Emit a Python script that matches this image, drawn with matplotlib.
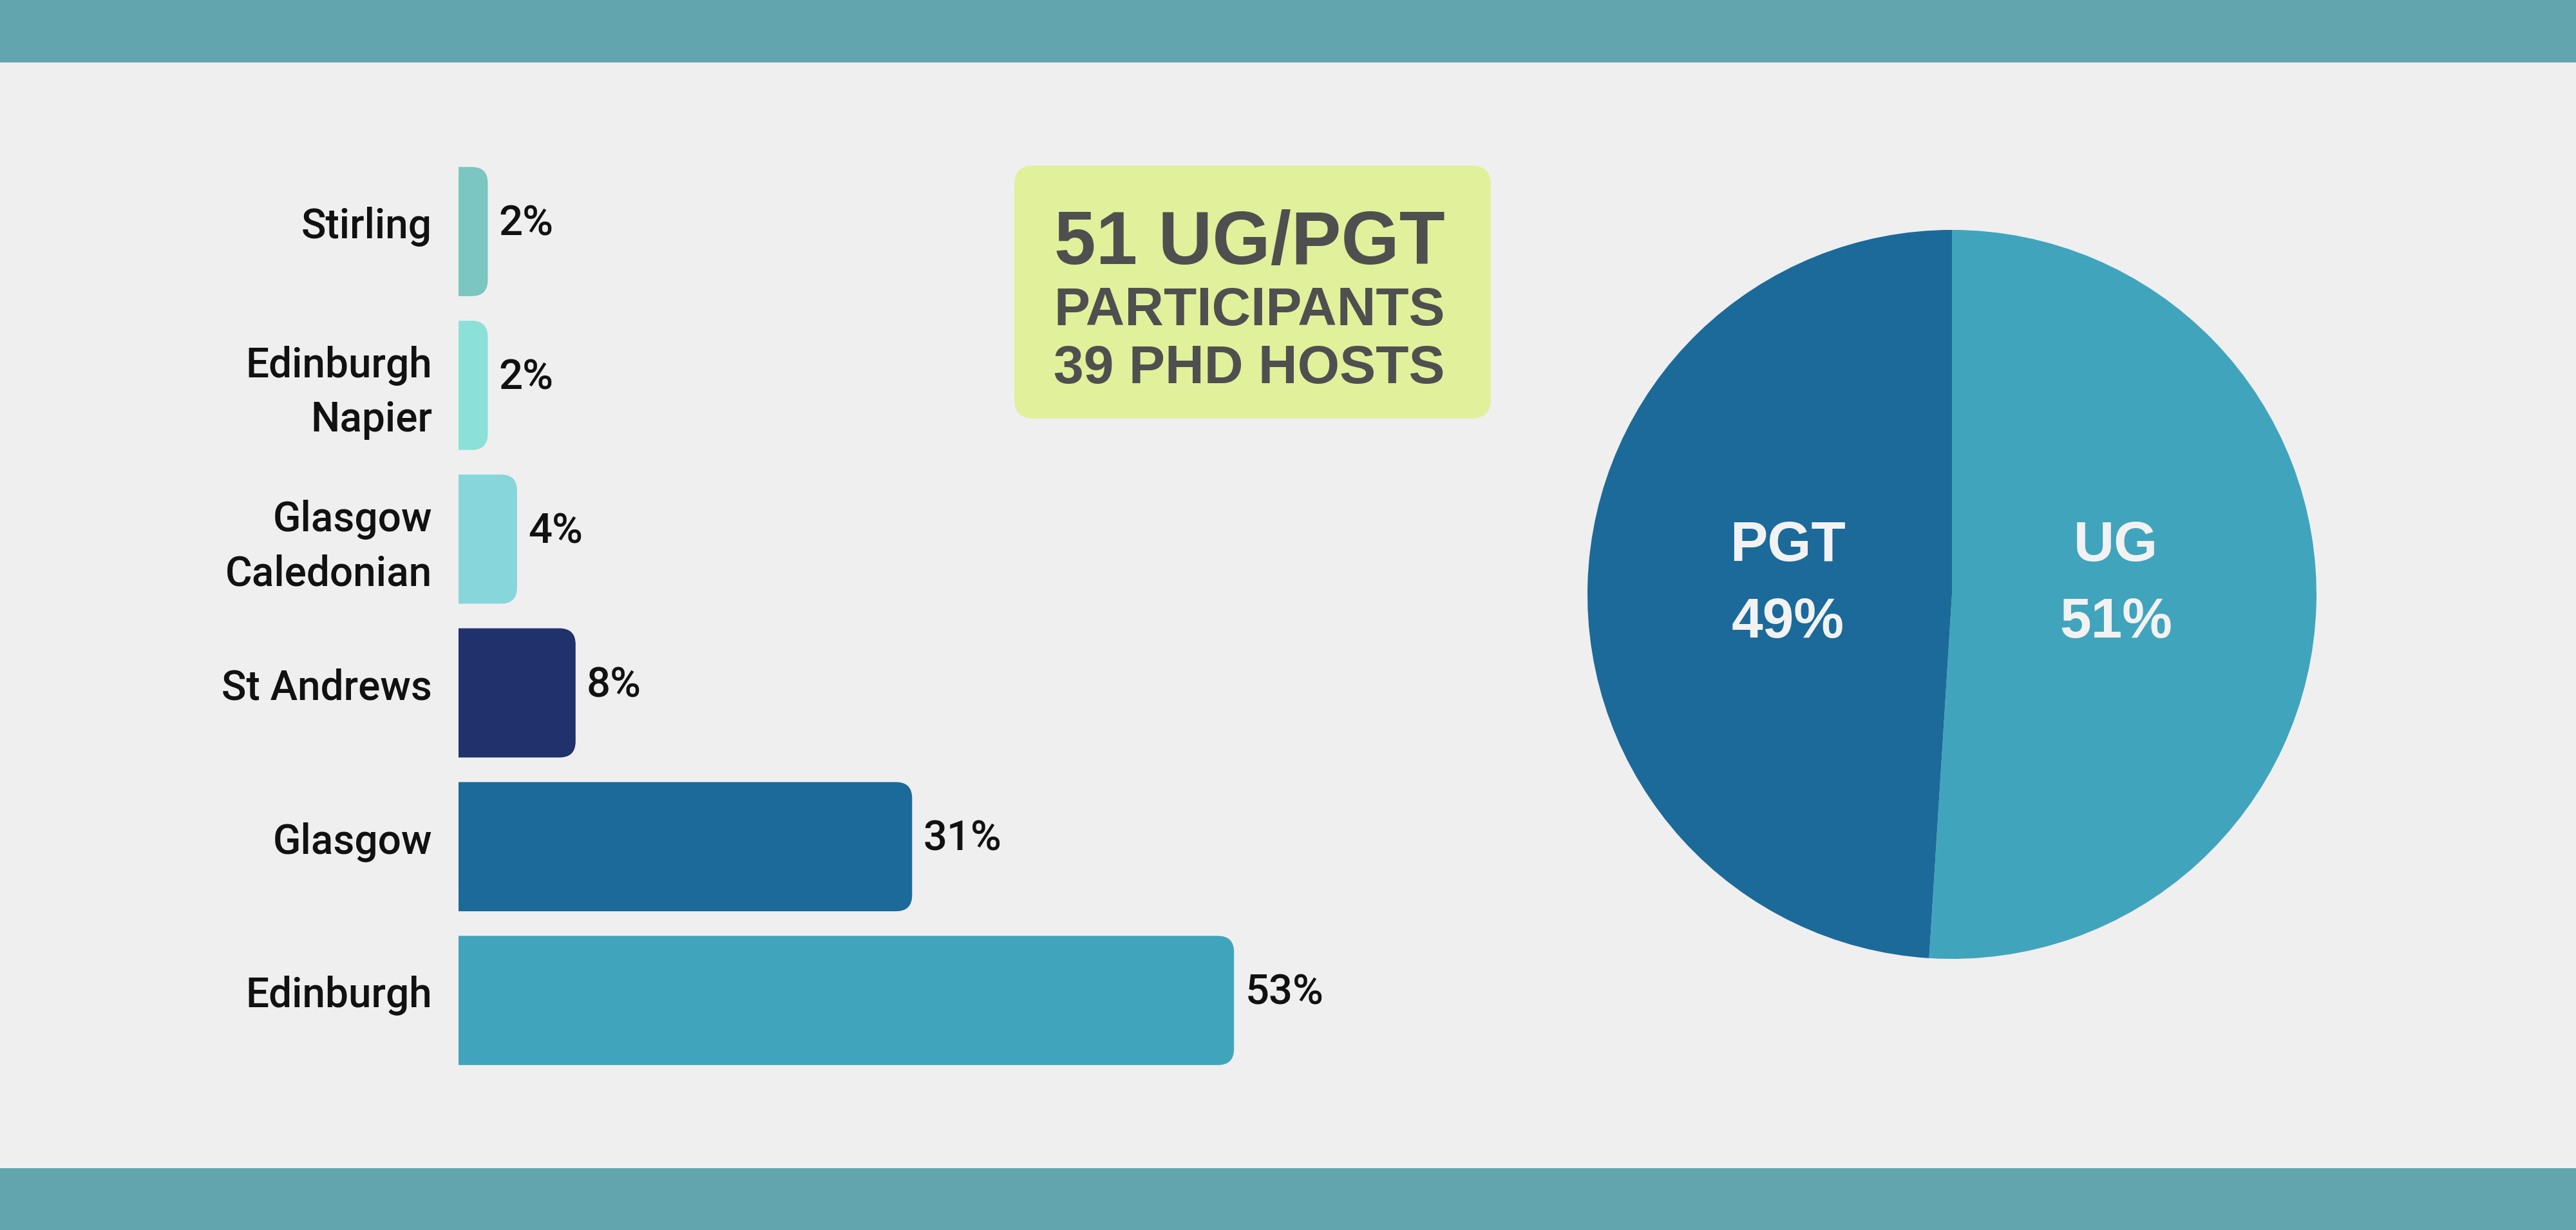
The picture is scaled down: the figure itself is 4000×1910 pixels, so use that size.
import matplotlib
matplotlib.use('Agg')
import matplotlib.pyplot as plt
from matplotlib.patches import FancyBboxPatch, Rectangle
from matplotlib import font_manager

# ---- data ----
universities = ['Edinburgh', 'Glasgow', 'St Andrews', 'Glasgow\nCaledonian',
                'Edinburgh\nNapier', 'Stirling']
shares = [53, 31, 8, 4, 2, 2]
bar_colors = ['#41a4bd', '#1b6a9a', '#20316c', '#86d6dc', '#8be0d8', '#7bc6c0']

levels = ['UG', 'PGT']
level_shares = [51, 49]
level_colors = ['#41a4bd', '#1b6a9a']

headline = ['51 UG/PGT', 'PARTICIPANTS', '39 PHD HOSTS']

# ---- fonts ----
names = {f.name for f in font_manager.fontManager.ttflist}
narrow = 'Liberation Sans Narrow' if 'Liberation Sans Narrow' in names else 'Liberation Sans'
label_font = 'Roboto' if 'Roboto' in names else 'DejaVu Sans'

W, H = 4000, 1910
BG = '#efefef'
fig = plt.figure(figsize=(W / 100, H / 100), dpi=100, facecolor=BG)

# overlay in pixel coordinates for bands and the headline box
deco = fig.add_axes([0, 0, 1, 1])
deco.set_xlim(0, W)
deco.set_ylim(H, 0)
deco.axis('off')
deco.add_patch(Rectangle((0, 0), W, 97, color='#62a5ae', lw=0))
deco.add_patch(Rectangle((0, 1814), W, 96, color='#62a5ae', lw=0))
deco.add_patch(FancyBboxPatch((1575, 257), 740, 393,
                              boxstyle='round,pad=0,rounding_size=30',
                              fc='#e1f09b', ec='none'))

fig.canvas.draw()
renderer = fig.canvas.get_renderer()
baselines = [410, 505, 595]
target_w = 607
for txt, yb, fs0 in zip(headline, baselines, [95, 70, 70]):
    t = deco.text(1940, yb, txt, ha='center', va='baseline', fontsize=fs0,
                  fontweight='bold', family=narrow, color='#4f4f4f')
    for _ in range(2):
        w = t.get_window_extent(renderer).width
        t.set_fontsize(t.get_fontsize() * target_w / w)

# ---- bar chart ----
px_per_unit = 22.72
pitch = 238.8
ax = fig.add_axes([712 / W, 0.1241, 60 * px_per_unit / W, 6 * pitch / H])
ax.set_xlim(0, 60)
ax.set_ylim(-0.5, 5.5)
ax.axis('off')
aspect = px_per_unit / pitch
for i, (name, v, c) in enumerate(zip(universities, shares, bar_colors)):
    bar = FancyBboxPatch((-3, i - 0.42), v + 3, 0.84,
                         boxstyle='round,pad=0,rounding_size=1.1',
                         mutation_aspect=aspect, fc=c, ec='none')
    ax.add_patch(bar)
    dy = -0.05 if '\n' in name else 0.03
    ax.text(-41 / px_per_unit, i + dy, name, ha='right', va='center',
            fontsize=46, fontweight='medium', family=label_font,
            color='#111111', linespacing=1.45)
    ax.text(v + 0.75, i + 0.05, f'{v}%', ha='left', va='center',
            fontsize=47, fontweight='medium', family=label_font, color='#111111')

# ---- pie chart ----
cx, cy, r = 3031, 923, 566
pax = fig.add_axes([(cx - r) / W, 1 - (cy + r) / H, 2 * r / W, 2 * r / H])
wedges, texts = pax.pie(level_shares, colors=level_colors, startangle=90,
                        counterclock=False,
                        labels=[f'{l}\n{s}%' for l, s in zip(levels, level_shares)],
                        labeldistance=0.45,
                        textprops=dict(fontsize=63, fontweight='bold',
                                       family='Liberation Sans', color='#f2f2f2',
                                       linespacing=1.6))
for t in texts:
    x, y = t.get_position()
    t.set_position((x, 0.026))
    t.set_ha('center')
    t.set_va('center')
pax.set_xlim(-1, 1)
pax.set_ylim(-1, 1)
pax.set_aspect('equal')

fig.savefig('out.png', dpi=100, facecolor=BG)
